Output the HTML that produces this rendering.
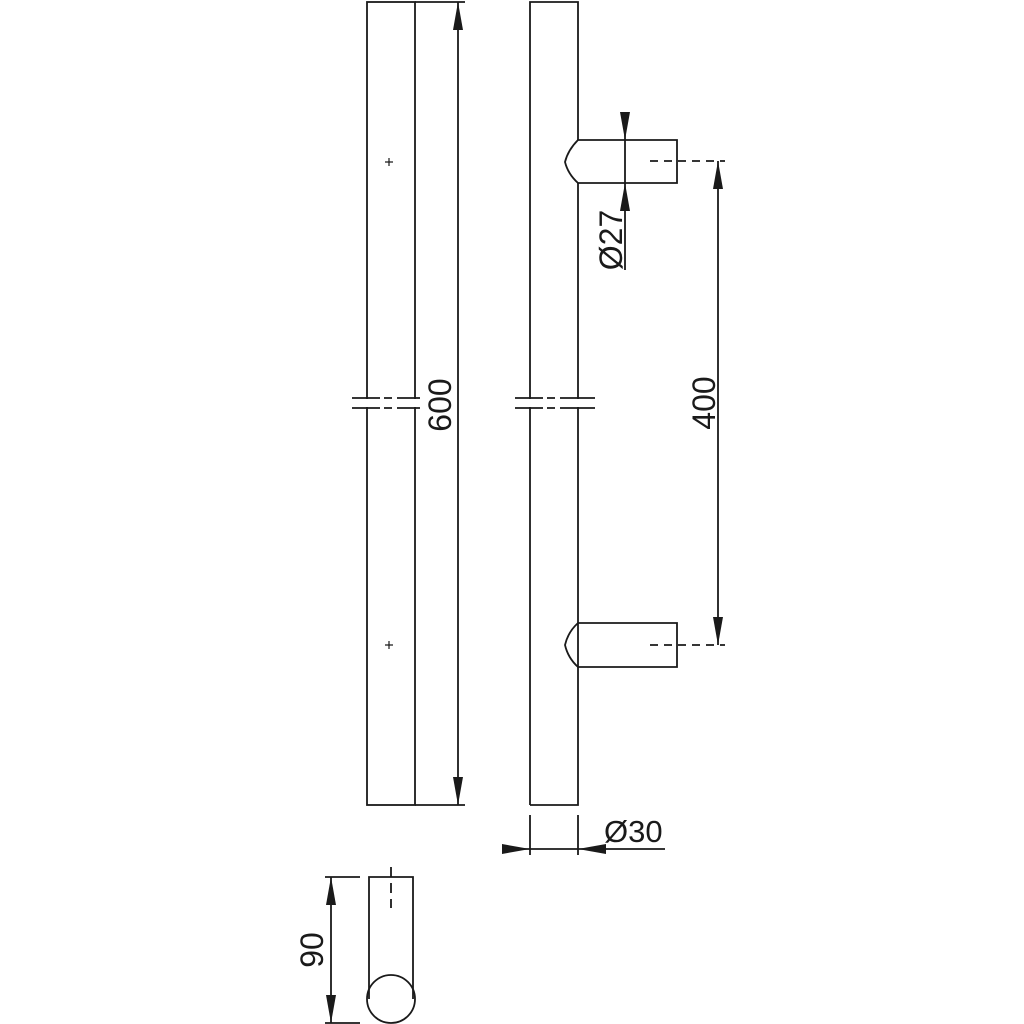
<!DOCTYPE html>
<html><head><style>body{margin:0;background:#fff}svg{display:block}</style></head><body>
<svg width="1024" height="1024" viewBox="0 0 1024 1024" xmlns="http://www.w3.org/2000/svg" font-family="Liberation Sans, sans-serif" fill="none" stroke="#1a1a1a" stroke-width="1.8">
<defs>
<marker id="a" viewBox="0 0 10 10" refX="10" refY="5" markerWidth="28" markerHeight="10" markerUnits="userSpaceOnUse" orient="auto-start-reverse" preserveAspectRatio="none"><path d="M0,0L10,5L0,10z" fill="#1a1a1a" stroke="none"/></marker>
</defs>
<rect x="367" y="2" width="48" height="803"/>
<path d="M385 162h8M389 158v8M385 645h8M389 641v8" stroke-width="1.2"/>
<g fill="#fff" stroke="none"><rect x="360" y="399" width="64" height="8"/></g>
<path d="M352 398h28M384 398h8M397 398h23M352 408h28M384 408h8M397 408h23"/>
<path d="M415 2h50M415 805h50"/>
<path d="M458 2V805" marker-start="url(#a)" marker-end="url(#a)"/>
<text transform="translate(451,405) rotate(-90)" font-size="32" fill="#1a1a1a" stroke="none" text-anchor="middle">600</text>
<path d="M530 805V2H578V140"/>
<path d="M578 183V805H530"/>
<g fill="#fff" stroke="none"><rect x="524" y="399" width="64" height="8"/></g>
<path d="M515 398h28M547 398h8M560 398h35M515 408h28M547 408h8M560 408h35"/>
<path d="M578 140H677V183H578 Q568 174 565 162 Q568 150 578 140Z"/>
<path d="M650 161H725" stroke-dasharray="8,6"/>
<path d="M578 623H677V667H578 Q568 658 565 645 Q568 632 578 623Z"/>
<path d="M650 645H725" stroke-dasharray="8,6"/>
<path d="M625 112V140" marker-end="url(#a)"/>
<path d="M625 270V183" marker-end="url(#a)"/>
<path d="M625 140V183"/>
<text transform="translate(622,240) rotate(-90)" font-size="32" fill="#1a1a1a" stroke="none" text-anchor="middle">Ø27</text>
<path d="M718 161V645" marker-start="url(#a)" marker-end="url(#a)"/>
<text transform="translate(715,403) rotate(-90)" font-size="32" fill="#1a1a1a" stroke="none" text-anchor="middle">400</text>
<path d="M530 815V855M578 815V855"/>
<path d="M505 849H530" marker-end="url(#a)"/>
<path d="M665 849H578" marker-end="url(#a)"/>
<path d="M530 849H578"/>
<text x="604" y="842" font-size="31" fill="#1a1a1a" stroke="none">Ø30</text>
<path d="M369 999V877H413V999"/>
<circle cx="391" cy="999" r="24"/>
<path d="M391 867V908" stroke-dasharray="10,6"/>
<path d="M325 877H360M325 1023H360"/>
<path d="M331 877V1023" marker-start="url(#a)" marker-end="url(#a)"/>
<text transform="translate(323,950) rotate(-90)" font-size="32" fill="#1a1a1a" stroke="none" text-anchor="middle">90</text>
</svg>
</body></html>
